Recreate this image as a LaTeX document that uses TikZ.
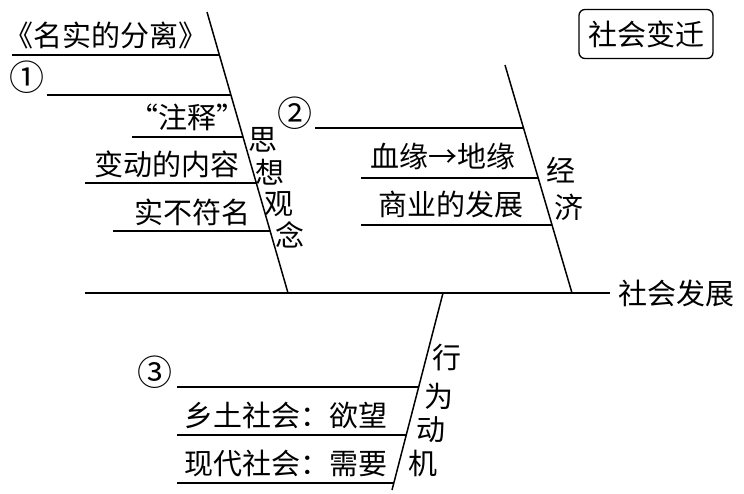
\documentclass[tikz,border=0pt]{standalone}
\usepackage{fontspec}
\setmainfont{Noto Sans CJK SC}
\begin{document}
\begin{tikzpicture}[x=1pt,y=-1pt,
  ln/.style={line width=1.5pt, black},
  txt/.style={inner sep=0pt, font=\fontsize{29}{30}\selectfont},
  num/.style={inner sep=0pt, font=\fontsize{35}{36}\selectfont},
  box/.style={draw, line width=1.3pt, rounded corners=6pt, inner xsep=9pt, inner ysep=11pt, font=\fontsize{29}{30}\selectfont}]
\useasboundingbox (0,0) rectangle (744,493);
% main line
\coordinate (mL) at (85,293);
\coordinate (mR) at (610,293);
\draw[ln] (mL) -- (mR);
\node[txt, anchor=west] (fz) at (618,293) {社会发展};
\node[box] (bq) at (646,34) {社会变迁};
% spine 1
\coordinate (s1t) at (207,12);
\coordinate (s1b) at (288,293);
\draw[ln] (s1t) -- (s1b);
\coordinate (a1l) at (12,55);  \coordinate (a1r) at (219.4,55);
\coordinate (a2l) at (47,95);  \coordinate (a2r) at (230.9,95);
\coordinate (a3l) at (132,137); \coordinate (a3r) at (243,137);
\coordinate (a4l) at (85,183); \coordinate (a4r) at (256.2,183);
\coordinate (a5l) at (113,231); \coordinate (a5r) at (270.1,231);
\foreach \i in {1,...,5} \draw[ln] (a\i l) -- (a\i r);
\node[txt] (t1) at (106,35) {《名实的分离》};
\node[num] (t2) at (27,77) {①};
\node[txt] (t3) at (187,117) {“注释”};
\node[txt] (t4) at (167,164) {变动的内容};
\node[txt] (t5) at (192,212) {实不符名};
\node[txt] (c1) at (263,140) {思};
\node[txt] (c2) at (270,172) {想};
\node[txt] (c3) at (279,204) {观};
\node[txt] (c4) at (290,235) {念};
% spine 2
\coordinate (s2t) at (505,65);
\coordinate (s2b) at (572,293);
\draw[ln] (s2t) -- (s2b);
\coordinate (b1l) at (315,128); \coordinate (b1r) at (523.5,128);
\coordinate (b2l) at (361,178); \coordinate (b2r) at (538.2,178);
\coordinate (b3l) at (361,225); \coordinate (b3r) at (552,225);
\foreach \i in {1,2,3} \draw[ln] (b\i l) -- (b\i r);
\node[num] (u1) at (295,113) {②};
\node[txt] (u2) at (443,156) {血缘→地缘};
\node[txt] (u3) at (451,204) {商业的发展};
\node[txt] (d1) at (561,170) {经};
\node[txt] (d2) at (569,207) {济};
% spine 3
\coordinate (s3t) at (443,293);
\coordinate (s3b) at (392,490);
\draw[ln] (s3t) -- (s3b);
\coordinate (e1l) at (177,387); \coordinate (e1r) at (419,387);
\coordinate (e2l) at (177,435); \coordinate (e2r) at (406.4,435);
\coordinate (e3l) at (177,483); \coordinate (e3r) at (393.8,483);
\foreach \i in {1,2,3} \draw[ln] (e\i l) -- (e\i r);
\node[num] (v1) at (155,372) {③};
\node[txt] (v2) at (286,415) {乡土社会：欲望};
\node[txt] (v3) at (286,463) {现代社会：需要};
\node[txt] (w1) at (447,358) {行};
\node[txt] (w2) at (439,396) {为};
\node[txt] (w3) at (431,430) {动};
\node[txt] (w4) at (423,463) {机};
\end{tikzpicture}
\end{document}
